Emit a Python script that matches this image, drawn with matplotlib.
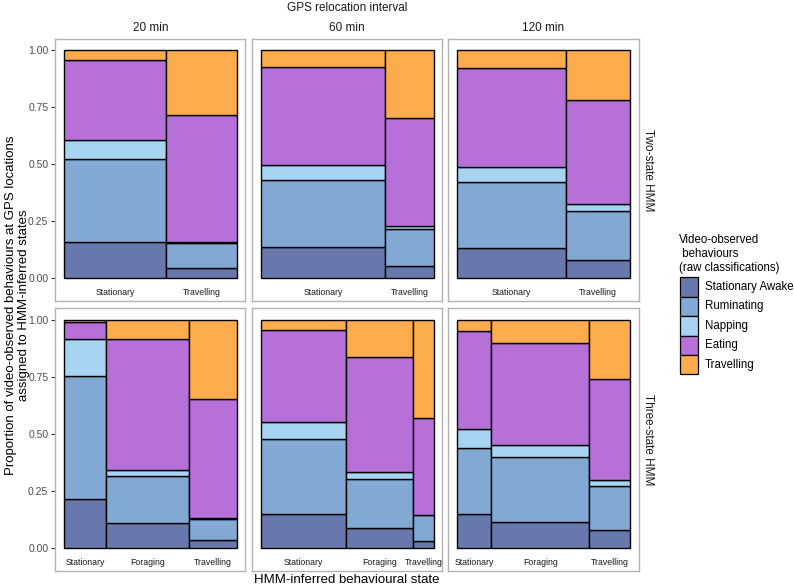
import matplotlib
matplotlib.use("Agg")
import matplotlib.pyplot as plt
from matplotlib.patches import Rectangle
import numpy as np

plt.rcParams['font.family'] = ['Liberation Sans', 'DejaVu Sans']

behaviours = ["Stationary Awake", "Ruminating", "Napping", "Eating", "Travelling"]
colors = ["#6878AC", "#82A8D4", "#A6D4F2", "#B670D8", "#FDAC4D"]
intervals = ["20 min", "60 min", "120 min"]
models = ["Two-state HMM", "Three-state HMM"]

states_two = ["Stationary", "Travelling"]
states_three = ["Stationary", "Foraging", "Travelling"]

# bar width fractions (share of locations in each inferred state)
widths_two_20 = [0.591, 0.409]
widths_two_60 = [0.72, 0.28]
widths_two_120 = [0.629, 0.371]
widths_three_20 = [0.245, 0.476, 0.279]
widths_three_60 = [0.495, 0.387, 0.118]
widths_three_120 = [0.200, 0.565, 0.235]

# proportions per state: SA, Ruminating, Napping, Eating, Travelling
props_two_20 = [[0.161, 0.362, 0.084, 0.352, 0.041],
                [0.045, 0.110, 0.005, 0.555, 0.285]]
props_two_60 = [[0.136, 0.294, 0.066, 0.429, 0.075],
                [0.053, 0.165, 0.013, 0.473, 0.296]]
props_two_120 = [[0.133, 0.291, 0.066, 0.431, 0.079],
                 [0.079, 0.217, 0.029, 0.456, 0.219]]
props_three_20 = [[0.214, 0.541, 0.162, 0.076, 0.007],
                  [0.108, 0.207, 0.025, 0.575, 0.085],
                  [0.037, 0.092, 0.003, 0.521, 0.347]]
props_three_60 = [[0.149, 0.330, 0.074, 0.404, 0.043],
                  [0.087, 0.215, 0.032, 0.505, 0.161],
                  [0.029, 0.115, 0.000, 0.424, 0.432]]
props_three_120 = [[0.148, 0.290, 0.083, 0.429, 0.050],
                   [0.116, 0.285, 0.049, 0.448, 0.102],
                   [0.078, 0.194, 0.025, 0.443, 0.260]]

panels = [
    [(states_two, widths_two_20, props_two_20),
     (states_two, widths_two_60, props_two_60),
     (states_two, widths_two_120, props_two_120)],
    [(states_three, widths_three_20, props_three_20),
     (states_three, widths_three_60, props_three_60),
     (states_three, widths_three_120, props_three_120)],
]

W, H = 794, 588
fig = plt.figure(figsize=(W / 100, H / 100), dpi=100)

col_x = [(55.3, 245.3), (252.3, 442.3), (448.3, 638.7)]
row_y = [(38.7, 301.0), (308.3, 570.7)]

y_top = 1 + 11.6 / 228.0
y_bot = -22.7 / 228.0

text_grey = "#4D4D4D"
border = "#B3B3B3"

for r in range(2):
    for c in range(3):
        x0, x1 = col_x[c]
        yt, yb = row_y[r]
        ax = fig.add_axes([x0 / W, 1 - yb / H, (x1 - x0) / W, (yb - yt) / H])
        pad = 8.5 / (x1 - x0 - 17.0)
        ax.set_xlim(-pad, 1 + pad)
        ax.set_ylim(y_bot, y_top)
        states, widths, props = panels[r][c]
        wsum = sum(widths)
        left = 0.0
        for s, (st, w) in enumerate(zip(states, widths)):
            wn = w / wsum
            p = np.array(props[s], dtype=float)
            p = p / p.sum()
            bottom = 0.0
            for k in range(len(behaviours)):
                if p[k] > 0:
                    ax.bar(left, p[k], width=wn, bottom=bottom, align='edge',
                           color=colors[k], edgecolor='black', linewidth=1.0, zorder=2)
                bottom += p[k]
            ax.text(left + wn / 2, -0.064, st, ha='center', va='center',
                    fontsize=6.3, color='#1A1A1A')
            left += wn
        for sp in ax.spines.values():
            sp.set_color(border)
            sp.set_linewidth(1.0)
        ax.set_xticks([])
        if c == 0:
            ax.set_yticks([0, 0.25, 0.5, 0.75, 1.0])
            ax.set_yticklabels(["0.00", "0.25", "0.50", "0.75", "1.00"])
            ax.tick_params(axis='y', length=3, width=0.8, color='#333333',
                           labelsize=7.5, labelcolor=text_grey, pad=2)
        else:
            ax.set_yticks([])

for c, lab in enumerate(intervals):
    xc = (col_x[c][0] + col_x[c][1]) / 2
    fig.text(xc / W, 1 - 28 / H, lab, ha='center', va='center', fontsize=8.5, color='#1A1A1A')
fig.text(347 / W, 1 - 8 / H, "GPS relocation interval", ha='center', va='center',
         fontsize=8.5, color='#1A1A1A')
for r, lab in enumerate(models):
    yc = (row_y[r][0] + row_y[r][1]) / 2
    fig.text(648 / W, 1 - yc / H, lab, ha='center', va='center', rotation=-90,
             fontsize=8.5, color='#1A1A1A')

fig.text(17.5 / W, 1 - 305 / H,
         "Proportion of video-observed behaviours at GPS locations\nassigned to HMM-inferred states",
         ha='center', va='center', rotation=90, fontsize=9.5, linespacing=1.12, color='black')
fig.text(347 / W, 1 - 580 / H, "HMM-inferred behavioural state", ha='center', va='center',
         fontsize=9.5, color='black')

# legend
fig.text(679 / W, 1 - 254 / H, "Video-observed\n behaviours\n(raw classifications)",
         ha='left', va='center', fontsize=8.3, linespacing=1.2, color='black')
lax = fig.add_axes([0, 0, 1, 1], facecolor='none')
lax.set_xlim(0, W)
lax.set_ylim(H, 0)
lax.axis('off')
key_top = 277.3
key_h = 19.4
for k, (b, col) in enumerate(zip(behaviours, colors)):
    y0 = key_top + k * key_h
    lax.add_patch(Rectangle((679.5, y0), 18.2, key_h, facecolor=col,
                            edgecolor='black', linewidth=0.9))
    lax.text(705, y0 + key_h / 2, b, ha='left', va='center', fontsize=8.3, color='black')

fig.savefig("out.png", dpi=100)
